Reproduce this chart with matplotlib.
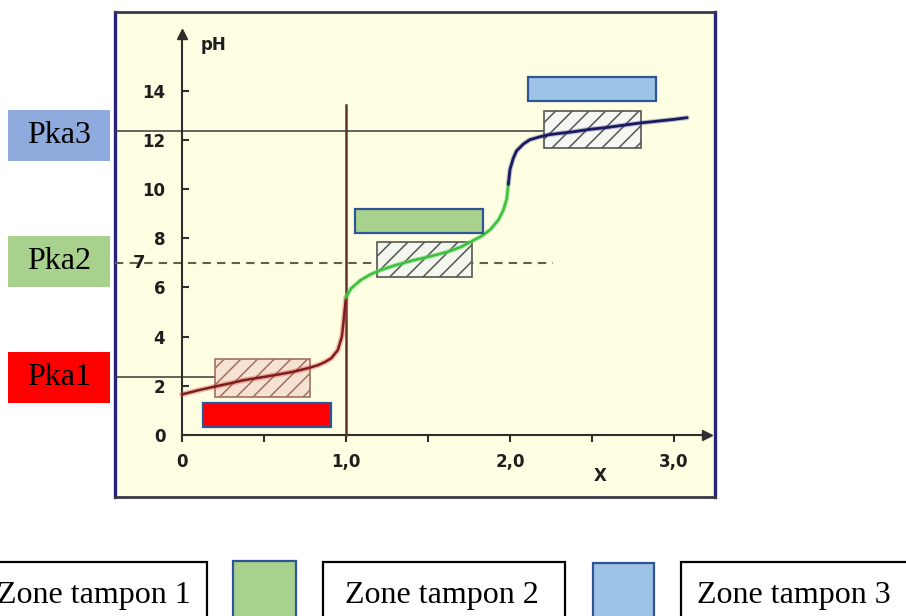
import matplotlib
matplotlib.use("Agg")
import matplotlib.pyplot as plt
from matplotlib.patches import Rectangle

# ---- titration curve of a triprotic acid, read point by point ----
x_zone1 = [0.0, 0.1, 0.2, 0.3, 0.37, 0.47, 0.57, 0.67, 0.77, 0.83, 0.87, 0.91, 0.95, 0.975, 0.985, 0.993, 1.0]
ph_zone1 = [1.65, 1.82, 1.97, 2.11, 2.22, 2.33, 2.44, 2.56, 2.72, 2.84, 2.96, 3.12, 3.45, 4.0, 4.6, 5.15, 5.6]

x_zone2 = [1.0, 1.03, 1.09, 1.15, 1.21, 1.3, 1.41, 1.52, 1.62, 1.7, 1.76, 1.83, 1.88, 1.93, 1.96, 1.98, 1.99]
ph_zone2 = [5.6, 5.95, 6.3, 6.53, 6.7, 6.9, 7.1, 7.27, 7.45, 7.64, 7.85, 8.1, 8.35, 8.75, 9.15, 9.6, 10.2]

x_zone3 = [1.99, 2.0, 2.02, 2.04, 2.08, 2.12, 2.17, 2.23, 2.3, 2.38, 2.48, 2.59, 2.7, 2.79, 2.9, 3.0, 3.08]
ph_zone3 = [10.2, 10.8, 11.25, 11.55, 11.82, 12.0, 12.1, 12.2, 12.26, 12.32, 12.42, 12.5, 12.6, 12.68, 12.76, 12.83, 12.9]

# pKa levels
pka_labels = ["Pka1", "Pka2", "Pka3"]
pka_values = [2.35, 7.0, 12.35]

# buffer zones (hatched): x range and pH range
buf_x0 = [0.20, 1.19, 2.21]
buf_x1 = [0.78, 1.77, 2.80]
buf_ph0 = [1.54, 6.42, 11.67]
buf_ph1 = [3.09, 7.85, 13.17]

# coloured zone markers
tag_x0 = [0.13, 1.055, 2.11]
tag_x1 = [0.91, 1.835, 2.89]
tag_ph0 = [0.33, 8.21, 13.58]
tag_ph1 = [1.30, 9.19, 14.55]

# equivalence line
x_equiv = 1.0
ph_equiv_top = 13.4

y_ticks = [0, 2, 4, 6, 8, 10, 12, 14]
x_ticks = [0, 0.5, 1.0, 1.5, 2.0, 2.5, 3.0]
x_tick_labels = ["0", "", "1,0", "", "2,0", "", "3,0"]
zone_labels = ["Zone tampon 1", "Zone tampon 2", "Zone tampon 3"]

# ---- figure ----
W, H = 906, 616
fig = plt.figure(figsize=(W / 100, H / 100), dpi=100)
fig.patch.set_facecolor("white")

def frac_box(x0, y0, x1, y1):
    return [x0 / W, 1 - y1 / H, (x1 - x0) / W, (y1 - y0) / H]

frame_pos = frac_box(115, 12, 715, 497)

# framed yellow panel
frame = fig.add_axes(frame_pos, zorder=0)
frame.set_facecolor("#fefee2")
frame.set_xticks([])
frame.set_yticks([])
for side in ("left", "right"):
    frame.spines[side].set_color("#23237a")
    frame.spines[side].set_linewidth(2.4)
for side in ("top", "bottom"):
    frame.spines[side].set_color("#3a3a4a")
    frame.spines[side].set_linewidth(2.0)

ax = fig.add_axes(frame_pos, zorder=1)
ax.set_facecolor("none")
ax.set_xlim(-0.4085, 3.25)
ax.set_ylim(-2.52, 17.195)

axis_col = "#2e2e2e"
for side in ("top", "right"):
    ax.spines[side].set_visible(False)
ax.spines["left"].set_position(("data", 0))
ax.spines["bottom"].set_position(("data", 0))
ax.spines["left"].set_bounds(0, 16.2)
ax.spines["bottom"].set_bounds(0, 3.18)
for side in ("left", "bottom"):
    ax.spines[side].set_color(axis_col)
    ax.spines[side].set_linewidth(1.5)
ax.plot(0, 16.3, marker="^", ms=7, color=axis_col, clip_on=False, zorder=5)
ax.plot(3.2, 0, marker=">", ms=7, color=axis_col, clip_on=False, zorder=5)

tick_font = dict(fontsize=12, fontweight="bold", color="#1e1e1e")
ax.set_yticks(y_ticks)
ax.set_yticklabels([str(v) for v in y_ticks], **tick_font)
ax.tick_params(axis="y", direction="in", length=5, width=1.5, color=axis_col, pad=12)
ax.set_xticks(x_ticks)
ax.set_xticklabels(x_tick_labels, **tick_font)
ax.tick_params(axis="x", direction="out", length=5, width=1.5, color=axis_col, pad=8)

ax.text(0.195, 15.85, "pH", ha="center", va="center", **tick_font)
ax.text(2.55, -1.65, "X", ha="center", va="center", **tick_font)
ax.text(-0.26, pka_values[1], "7", ha="center", va="center", fontsize=13,
        fontweight="bold", color="#1e1e1e")

# pKa guide lines
x_left = ax.get_xlim()[0]
ax.plot([x_left, buf_x0[0]], [pka_values[0]] * 2, color="#3a3a3a", lw=1.1, zorder=2)
ax.plot([x_left, 2.26], [pka_values[1]] * 2, color="#6a5a4c", lw=1.5,
        ls=(0, (4, 3)), zorder=2)
ax.plot([x_left, buf_x0[2]], [pka_values[2]] * 2, color="#3a3a3a", lw=1.1, zorder=2)

# equivalence line
ax.plot([x_equiv, x_equiv], [0, ph_equiv_top], color="#5a3528", lw=1.8, zorder=3)

# hatched buffer zones
plt.rcParams["hatch.linewidth"] = 1.1
buf_face = ["#f6e2d2", "#f4f7ee", "#f6f6f2"]
buf_edge = ["#a07060", "#555555", "#555555"]
for i in range(3):
    ax.add_patch(Rectangle((buf_x0[i], buf_ph0[i]), buf_x1[i] - buf_x0[i],
                           buf_ph1[i] - buf_ph0[i], facecolor=buf_face[i],
                           edgecolor=buf_edge[i], hatch="//", lw=1.2, zorder=2))

# titration curve
ax.plot(x_zone1, ph_zone1, color="#e04040", lw=4.0, alpha=0.35,
        solid_capstyle="round", zorder=4)
ax.plot(x_zone1, ph_zone1, color="#7a1e1e", lw=1.8, solid_capstyle="round",
        solid_joinstyle="round", zorder=4)
ax.plot(x_zone2, ph_zone2, color="#66dd66", lw=3.2, alpha=0.5,
        solid_capstyle="round", zorder=4)
ax.plot(x_zone2, ph_zone2, color="#3fbf3f", lw=1.8, solid_capstyle="round",
        solid_joinstyle="round", zorder=4)
ax.plot(x_zone3, ph_zone3, color="#5050a0", lw=3.6, alpha=0.35,
        solid_capstyle="round", zorder=4)
ax.plot(x_zone3, ph_zone3, color="#1a1a5e", lw=2.0, solid_capstyle="round",
        solid_joinstyle="round", zorder=4)

# coloured zone markers
tag_face = ["#ff0000", "#a9d18e", "#9dc3e6"]
for i in range(3):
    ax.add_patch(Rectangle((tag_x0[i], tag_ph0[i]), tag_x1[i] - tag_x0[i],
                           tag_ph1[i] - tag_ph0[i], facecolor=tag_face[i],
                           edgecolor="#2f5597", lw=1.6, zorder=6))

# pKa labels on the left
serif = "Liberation Serif"
pka_face = ["#ff0000", "#a9d18e", "#8faadc"]
pka_boxes = [(8, 352, 110, 403), (8, 236, 110, 287), (8, 110, 110, 161)]
for lab, col, (x0, y0, x1, y1) in zip(pka_labels, pka_face, pka_boxes):
    fig.patches.append(Rectangle(frac_box(x0, y0, x1, y1)[:2],
                                 (x1 - x0) / W, (y1 - y0) / H,
                                 transform=fig.transFigure, facecolor=col,
                                 edgecolor="none", zorder=3))
    fig.text((x0 + x1) / 2 / W, 1 - (y0 + y1) / 2 / H, lab, ha="center",
             va="center", fontsize=23, family=serif, color="black", zorder=4)

# bottom legend row
legend_boxes = [(-3, 562, 207, 640, "white", "black"),
                (233, 561, 296, 640, "#a9d18e", "#2f5597"),
                (323, 562, 565, 640, "white", "black"),
                (593, 563, 654, 640, "#9dc3e6", "#2f5597"),
                (681, 562, 915, 640, "white", "black")]
for x0, y0, x1, y1, fc, ec in legend_boxes:
    fig.patches.append(Rectangle(frac_box(x0, y0, x1, y1)[:2],
                                 (x1 - x0) / W, (y1 - y0) / H,
                                 transform=fig.transFigure, facecolor=fc,
                                 edgecolor=ec, lw=1.6, zorder=3))
text_pos = [(191, "right"), (345, "left"), (697, "left")]
for lab, (xp, ha) in zip(zone_labels, text_pos):
    fig.text(xp / W, 1 - 603 / H, lab, ha=ha, va="baseline", fontsize=23,
             family=serif, color="black", zorder=4)

fig.savefig("out.png", dpi=100)
